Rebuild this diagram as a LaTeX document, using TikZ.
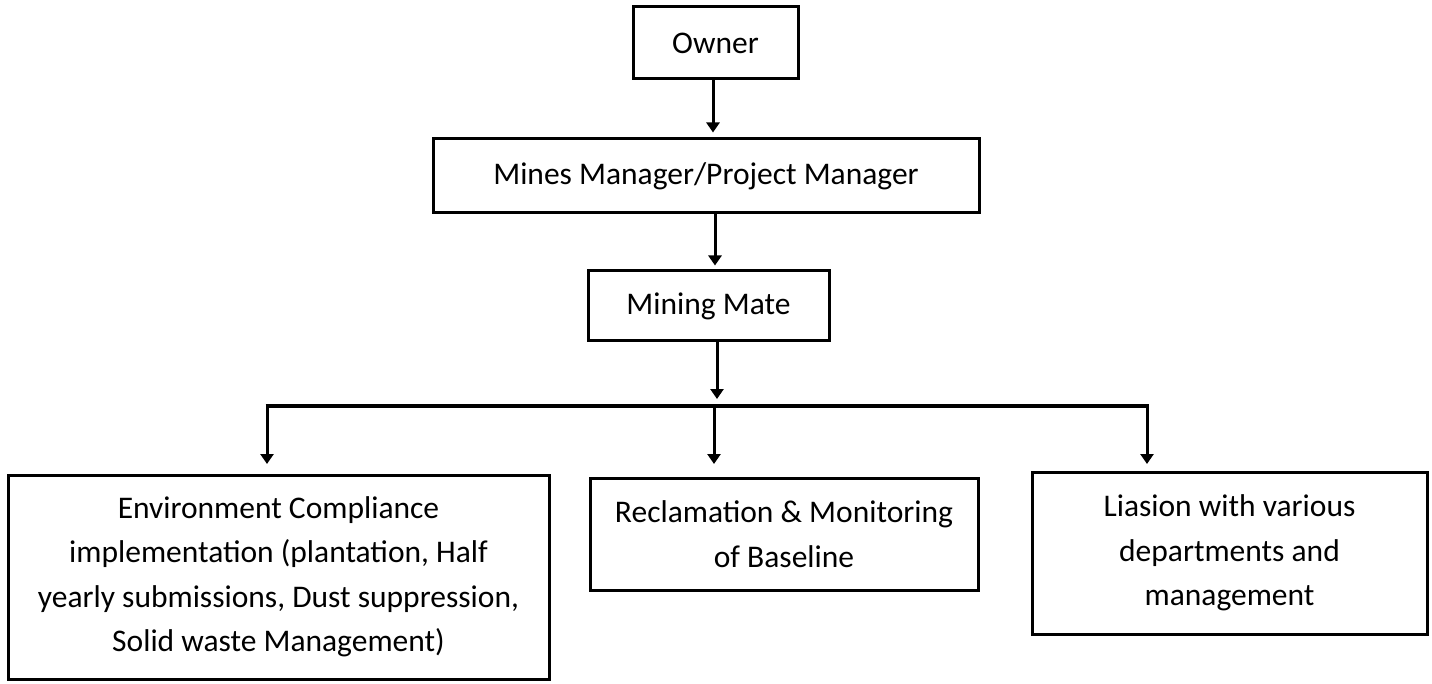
\documentclass[tikz,border=0pt]{standalone}
\usepackage{fontspec}
\setmainfont{Carlito}
\usetikzlibrary{arrows.meta}
\begin{document}
\begin{tikzpicture}[x=1pt,y=-1pt,
  box/.style={draw=black,line width=3pt,inner sep=0pt,align=center,
    font=\fontsize{31.5}{44.5}\selectfont},
  conn/.style={line width=3pt,-{Triangle[width=13pt,length=10pt]}},
  bus/.style={line width=3.5pt}]
\useasboundingbox (0,0) rectangle (1432,684);
\node[box,minimum width=165pt,minimum height=72pt] (owner) at (715.5,43) {Owner};
\node[box,minimum width=546pt,minimum height=74pt] (mines) at (706,176) {Mines Manager/Project Manager};
\node[box,minimum width=241pt,minimum height=70pt] (mate) at (708.5,306) {Mining Mate};
\node[box,minimum width=541pt,minimum height=204pt] (env) at (278.5,577)
  {Environment Compliance\\implementation (plantation, Half\\yearly submissions, Dust suppression,\\Solid waste Management)};
\node[box,minimum width=388pt,minimum height=112pt] (recl) at (784,534)
  {Reclamation \& Monitoring\\of Baseline};
\node[box,minimum width=395pt,minimum height=162pt] (liai) at (1229.5,553)
  {Liasion with various\\departments and\\management};
\coordinate (busL) at (267,406);
\coordinate (busM) at (714,406);
\coordinate (busR) at (1147,406);
\coordinate (busIn) at (717,406);
\coordinate (tipL) at (267,464);
\coordinate (tipM) at (714,464);
\coordinate (tipR) at (1147,464);
\draw[conn,shorten >=5pt] (owner.south -| 713,0) -- (mines.north -| 713,0);
\draw[conn,shorten >=4pt] (mines.south -| 715,0) -- (mate.north -| 715,0);
\draw[conn,shorten >=7pt] (mate.south -| busIn) -- (busIn);
\draw[bus] ([xshift=-1.5pt]busL) -- ([xshift=1.5pt]busR);
\draw[conn] (busL) -- (tipL);
\draw[conn] (busM) -- (tipM);
\draw[conn] (busR) -- (tipR);
\end{tikzpicture}
\end{document}
